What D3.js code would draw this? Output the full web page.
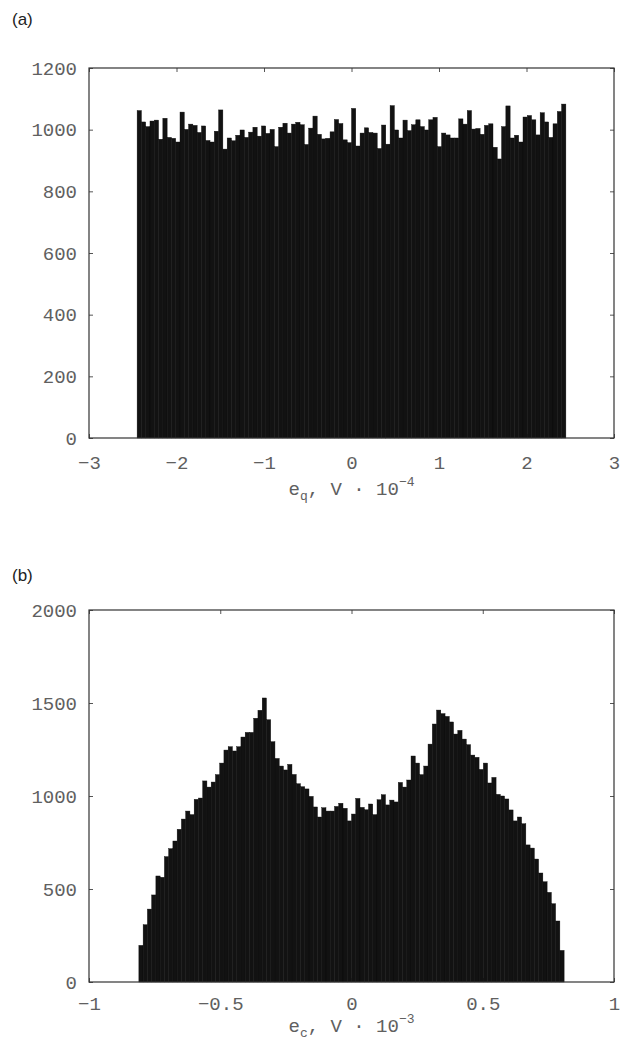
<!DOCTYPE html>
<html>
<head>
<meta charset="utf-8">
<script src="https://cdn.jsdelivr.net/npm/d3@7"></script>
<style>
  html, body { margin: 0; padding: 0; background: #fff; }
</style>
</head>
<body>
<div id="chart"></div>
<script>
// === Histogram data ===

// (a) quantisation error e_q, 100 bins
const topBinRange = [-2.45, 2.45];
const topCounts = [
  1062, 1025, 1010, 1028, 1031, 969, 1037, 975, 972, 960,
  1057, 1001, 1018, 1014, 991, 1012, 965, 960, 995, 1064,
  937, 973, 964, 982, 999, 975, 992, 1008, 979, 1012,
  988, 1001, 945, 1008, 1021, 989, 1018, 1024, 1016, 952,
  1005, 1044, 985, 970, 972, 993, 1033, 1020, 967, 958,
  1069, 947, 989, 1006, 991, 989, 939, 1015, 953, 1078,
  999, 973, 1031, 997, 1016, 1032, 1010, 999, 1032, 1040,
  945, 989, 983, 973, 973, 1035, 1018, 1062, 1002, 1004,
  985, 1014, 1019, 943, 905, 1010, 1077, 973, 982, 960,
  1041, 1046, 1032, 983, 1055, 1025, 975, 1019, 1059, 1083
];
const topXTicks = [-3, -2, -1, 0, 1, 2, 3];
const topYTicks = [0, 200, 400, 600, 800, 1000, 1200];

// (b) error e_c, 100 bins
const bottomBinRange = [-0.81, 0.81];
const bottomCounts = [
  197, 308, 392, 468, 570, 563, 674, 717, 758, 821,
  876, 919, 900, 982, 989, 1081, 1048, 1075, 1115, 1177,
  1247, 1265, 1242, 1265, 1317, 1342, 1342, 1418, 1461, 1527,
  1410, 1292, 1202, 1161, 1140, 1170, 1116, 1066, 1050, 1038,
  998, 941, 887, 937, 919, 919, 944, 961, 934, 866,
  903, 987, 939, 926, 957, 900, 980, 1007, 952, 978,
  968, 1073, 1048, 1086, 1215, 1177, 1115, 1161, 1279, 1387,
  1462, 1443, 1428, 1398, 1333, 1353, 1306, 1276, 1220, 1208,
  1143, 1177, 1070, 1100, 1009, 1000, 984, 925, 866, 887,
  851, 737, 720, 661, 586, 539, 482, 421, 328, 170
];
const bottomXTicks = [-1, -0.5, 0, 0.5, 1];
const bottomYTicks = [0, 500, 1000, 1500, 2000];

// === Layout ===
const WIDTH = 628;
const HEIGHT = 1043;
const PLOT_LEFT = 89;
const PLOT_RIGHT = 614;
const TICK_LEN = 4;
const MONO = "'Liberation Mono', 'DejaVu Sans Mono', monospace";
const TEXT_GREY = '#606060';

const svg = d3.select('#chart')
  .append('svg')
  .attr('width', WIDTH)
  .attr('height', HEIGHT)
  .style('background', '#fff');

function renderPanel(opts) {
  const x = d3.scaleLinear().domain(opts.xDomain).range([PLOT_LEFT, PLOT_RIGHT]);
  const y = d3.scaleLinear().domain(opts.yDomain).range([opts.bottom, opts.top]);
  const fmt = d3.format('~g');

  const g = svg.append('g');

  // Panel letter
  g.append('text')
    .attr('x', 12).attr('y', opts.letterY)
    .attr('font-family', "'Liberation Sans', Arial, sans-serif")
    .attr('font-size', '17px')
    .attr('fill', '#222')
    .text(opts.letter);

  // Mirror ticks (top and right), no labels
  g.append('g')
    .attr('transform', `translate(0,${opts.top})`)
    .call(d3.axisTop(x).tickValues(opts.xTicks).tickSize(-TICK_LEN).tickSizeOuter(0).tickFormat(''));
  g.append('g')
    .attr('transform', `translate(${PLOT_RIGHT},0)`)
    .call(d3.axisRight(y).tickValues(opts.yTicks).tickSize(-TICK_LEN).tickSizeOuter(0).tickFormat(''));

  // Main axes with labels
  const xAxis = g.append('g')
    .attr('transform', `translate(0,${opts.bottom})`)
    .call(d3.axisBottom(x).tickValues(opts.xTicks).tickSize(-TICK_LEN).tickSizeOuter(0)
      .tickPadding(opts.xPad).tickFormat(fmt));
  const yAxis = g.append('g')
    .attr('transform', `translate(${PLOT_LEFT},0)`)
    .call(d3.axisLeft(y).tickValues(opts.yTicks).tickSize(-TICK_LEN).tickSizeOuter(0)
      .tickPadding(12).tickFormat(fmt));

  for (const ax of [xAxis, yAxis]) {
    ax.selectAll('text')
      .attr('font-family', MONO)
      .attr('font-size', '19px')
      .attr('fill', TEXT_GREY);
  }
  g.selectAll('.domain').remove();
  g.selectAll('.tick line').attr('stroke', '#555').attr('stroke-width', 1);

  // Bars
  const n = opts.counts.length;
  const binW = (opts.binRange[1] - opts.binRange[0]) / n;
  g.append('g')
    .selectAll('rect')
    .data(opts.counts)
    .join('rect')
    .attr('x', (d, i) => x(opts.binRange[0] + i * binW))
    .attr('width', (d, i) => x(opts.binRange[0] + (i + 1) * binW) - x(opts.binRange[0] + i * binW))
    .attr('y', d => y(d))
    .attr('height', d => y(0) - y(d))
    .attr('fill', '#121212')
    .attr('stroke', '#0a0a0a')
    .attr('stroke-width', 0.4);

  // Frame
  g.append('rect')
    .attr('x', PLOT_LEFT).attr('y', opts.top)
    .attr('width', PLOT_RIGHT - PLOT_LEFT).attr('height', opts.bottom - opts.top)
    .attr('fill', 'none')
    .attr('stroke', '#333')
    .attr('stroke-width', 1.2);

  // Axis title: e_sub, V · 10^sup
  const label = g.append('text')
    .attr('x', (PLOT_LEFT + PLOT_RIGHT) / 2)
    .attr('y', opts.bottom + opts.labelOffset)
    .attr('text-anchor', 'middle')
    .attr('font-family', MONO)
    .attr('font-size', '19px')
    .attr('fill', TEXT_GREY);
  label.append('tspan').text('e');
  label.append('tspan').attr('font-size', '13px').attr('dy', 5).text(opts.sub);
  label.append('tspan').attr('dy', -5).text(', V \u00B7 10');
  label.append('tspan').attr('font-size', '13px').attr('dy', -9).text(opts.sup);
}

renderPanel({
  letter: '(a)', letterY: 25,
  top: 68, bottom: 438,
  xDomain: [-3, 3], yDomain: [0, 1200],
  xTicks: topXTicks, yTicks: topYTicks,
  binRange: topBinRange, counts: topCounts,
  xPad: 18, labelOffset: 57,
  sub: 'q', sup: '\u22124'
});

renderPanel({
  letter: '(b)', letterY: 581,
  top: 610, bottom: 982,
  xDomain: [-1, 1], yDomain: [0, 2000],
  xTicks: bottomXTicks, yTicks: bottomYTicks,
  binRange: bottomBinRange, counts: bottomCounts,
  xPad: 15, labelOffset: 50,
  sub: 'c', sup: '\u22123'
});
</script>
</body>
</html>
